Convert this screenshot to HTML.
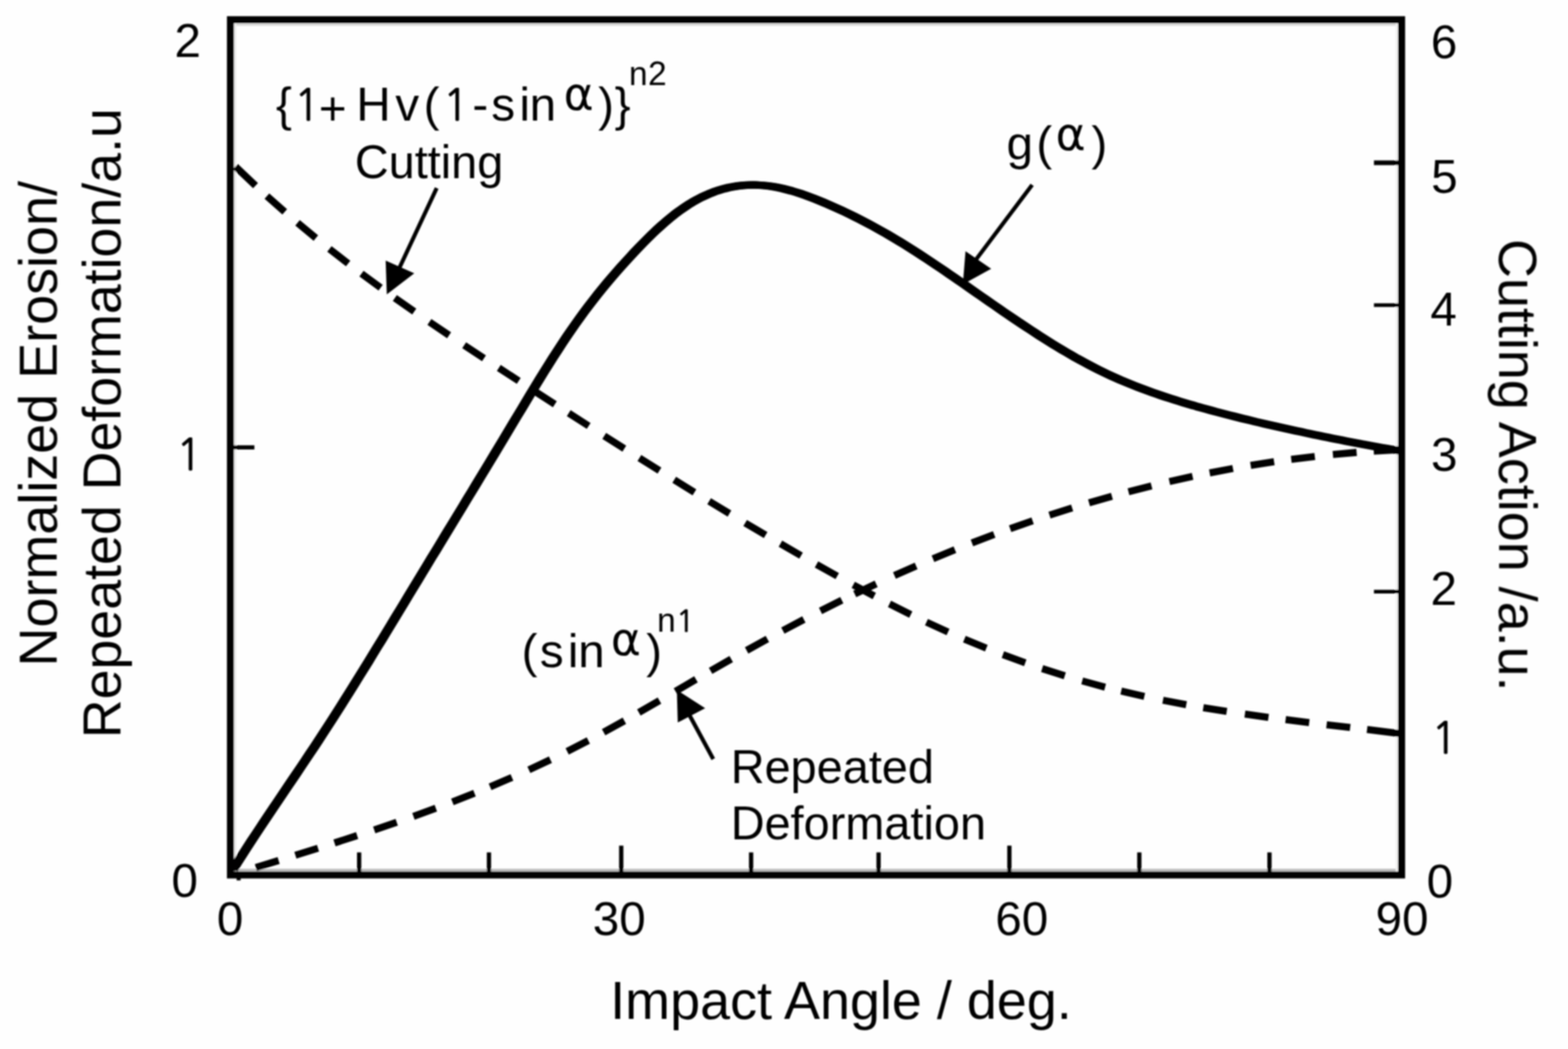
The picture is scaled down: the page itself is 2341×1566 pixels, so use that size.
<!DOCTYPE html>
<html lang="en"><head><meta charset="utf-8"><title>Normalized erosion versus impact angle</title>
<style>
html,body{margin:0;padding:0;background:#fefefe;}
body{width:2341px;height:1566px;overflow:hidden;}
svg{display:block;}
text{font-family:"Liberation Sans",sans-serif;fill:#050605;white-space:pre;}
.t{font-size:71px;}
.a{font-size:80.5px;}
.s{font-size:50px;}
.n{font-size:70px;}
.o{font-family:"NanumGothic","Liberation Sans",sans-serif;stroke:#050605;stroke-width:1.1px;}
.g{font-family:"DejaVu Sans","Liberation Sans",sans-serif;font-size:68px;}
</style></head><body>
<svg width="2341" height="1566" viewBox="0 0 2341 1566">
<rect x="0" y="0" width="2341" height="1566" fill="#fefefe"/>
<defs><filter id="soft" x="0" y="0" width="2341" height="1566" filterUnits="userSpaceOnUse"><feGaussianBlur stdDeviation="1.3"/></filter></defs>
<g filter="url(#soft)">
<rect x="349.3" y="34.7" width="1738.0" height="3.8" fill="#d9d9d8"/>
<rect x="349.3" y="1296.9" width="1738.0" height="4" fill="#bebebe"/>
<rect x="349.3" y="34.7" width="3.6" height="1266.2" fill="#efefee"/>
<rect x="2083.7" y="34.7" width="3.6" height="1266.2" fill="#f1f1f0"/>
<g stroke="#050605" stroke-width="6.4" fill="none">
<line x1="536.2" y1="1306.15" x2="536.2" y2="1272.5"/>
<line x1="730" y1="1306.15" x2="730" y2="1272.5"/>
<line x1="927.5" y1="1306.15" x2="927.5" y2="1262.4"/>
<line x1="1121.4" y1="1306.15" x2="1121.4" y2="1272.5"/>
<line x1="1311.7" y1="1306.15" x2="1311.7" y2="1272.5"/>
<line x1="1507" y1="1306.15" x2="1507" y2="1262.4"/>
<line x1="1701" y1="1306.15" x2="1701" y2="1272.5"/>
<line x1="1895.3" y1="1306.15" x2="1895.3" y2="1272.5"/>
<line x1="344.05" y1="667.9" x2="379.8" y2="667.9"/>
<line x1="2092.55" y1="243" x2="2051.3" y2="243" stroke-width="7"/>
<line x1="2092.55" y1="455.5" x2="2051.3" y2="455.5" stroke-width="5.5"/>
<line x1="2092.55" y1="883.3" x2="2051.3" y2="883.3" stroke-width="5.5"/>
</g>
<path d="M351.5,248.6 L381.5,277.2 M398.5,292.7 L425.1,316.2 M444.2,332.6 L471.6,355.3 M491.8,371.6 L519.8,393.4 M539.7,408.5 L568.3,429.5 M589.5,444.8 L618.5,465.2 M641.1,480.6 L670.5,500.5 M693.0,515.4 L722.6,534.9 M744.7,549.3 L774.5,568.6 M798.6,584.2 L828.4,603.5 M849.1,616.8 L878.9,635.9 M902.1,650.7 L932.1,669.7 M954.6,683.8 L984.6,702.6 M1006.6,716.3 L1036.8,734.9 M1058.7,748.3 L1089.1,766.6 M1112.5,780.7 L1143.1,798.8 M1165.2,811.7 L1196.0,829.5 M1219.0,842.6 L1250.0,860.0 M1273.9,873.1 L1305.3,889.8 M1328.0,901.6 L1359.8,917.4 M1383.2,928.7 L1415.4,943.5 M1439.8,954.1 L1472.6,967.6 M1497.3,977.3 L1530.7,989.5 M1555.9,998.1 L1589.7,1008.9 M1615.7,1016.5 L1649.9,1025.8 M1673.9,1031.7 L1708.5,1039.6 M1736.3,1045.4 L1771.1,1052.0 M1796.5,1056.4 L1831.5,1062.0 M1858.6,1066.0 L1893.8,1070.9 M1919.4,1074.3 L1954.6,1078.7 M1980.6,1081.9 L2015.8,1086.1 M2041.0,1089.1 L2091.0,1095.2" stroke="#050605" stroke-width="10.6" fill="none"/>
<path d="M382.0,1295.1 L416.0,1284.6 M441.0,1276.8 L474.8,1266.2 M499.4,1258.4 L533.2,1247.4 M558.7,1239.0 L592.3,1227.5 M617.3,1218.7 L650.7,1206.5 M675.4,1197.1 L708.4,1184.1 M731.7,1174.6 L764.3,1160.6 M789.6,1149.2 L821.8,1134.1 M846.8,1121.8 L878.4,1105.5 M901.2,1093.2 L932.2,1076.0 M953.8,1063.7 L984.6,1045.9 M1008.5,1032.0 L1039.1,1014.1 M1060.9,1001.5 L1091.7,983.9 M1114.7,971.0 L1145.7,953.8 M1168.8,941.4 L1200.2,924.8 M1225.0,912.0 L1256.8,896.1 M1276.1,886.7 L1308.1,871.6 M1335.4,859.1 L1367.8,844.8 M1392.9,834.1 L1425.7,820.6 M1451.1,810.5 L1484.3,797.9 M1508.1,789.2 L1541.7,777.4 M1566.9,769.0 L1600.7,758.2 M1625.9,750.6 L1660.1,740.8 M1684.8,734.1 L1719.2,725.3 M1745.9,718.9 L1780.5,711.2 M1806.0,706.0 L1840.8,699.4 M1867.2,694.8 L1902.2,689.3 M1927.8,685.7 L1963.0,681.4 M1990.0,678.5 L2025.4,675.4 M2051.0,673.5 L2091.0,671.3" stroke="#050605" stroke-width="10.6" fill="none"/>
<g stroke="#050605" stroke-width="11.2" fill="none" stroke-linejoin="round"><path d="M348.0,1298.0 L354.7,1287.3 L361.5,1276.7 L368.2,1266.3 L374.9,1255.9 L381.6,1245.7 L388.4,1235.5 L395.1,1225.4 L401.8,1215.3 L408.5,1205.3 L415.3,1195.3 L422.0,1185.4 L428.7,1175.4 L435.4,1165.5 L442.2,1155.5 L448.9,1145.5 L455.6,1135.5 L462.3,1125.4 L469.1,1115.3 L475.8,1105.1 L482.5,1094.8 L489.2,1084.5 L496.0,1074.0 L502.7,1063.5 L509.4,1052.9 L516.1,1042.3 L522.9,1031.6 L529.6,1020.8 L536.3,1009.9 L543.1,999.1 L549.8,988.2 L556.5,977.2 L563.2,966.2 L570.0,955.2 L576.7,944.1 L583.4,933.1 L590.1,922.0 L596.9,910.9 L603.6,899.8 L610.3,888.7 L617.0,877.6 L623.8,866.5 L630.5,855.4 L637.2,844.3 L643.9,833.2 L650.7,822.2 L657.4,811.1 L664.1,800.0 L670.8,789.0 L677.6,777.9 L684.3,766.8 L691.0,755.8 L697.7,744.7 L704.5,733.6 L711.2,722.5 L717.9,711.4 L724.6,700.3 L731.4,689.1 L738.1,678.0 L744.8,666.8 L751.6,655.6 L758.3,644.4 L765.0,633.2 L771.7,622.0 L778.5,610.8 L785.2,599.6 L791.9,588.4 L798.6,577.3 L805.4,566.3 L812.1,555.4 L818.8,544.7 L825.5,534.0 L832.3,523.6 L839.0,513.3 L845.7,503.2 L852.4,493.3 L859.2,483.6 L865.9,474.2 L872.6,465.0 L879.3,456.1 L886.1,447.3 L892.8,438.8 L899.5,430.5 L906.2,422.4 L913.0,414.4 L919.7,406.6 L926.4,399.0 L933.2,391.5 L939.9,384.2 L946.6,376.9 L953.3,369.8 L960.1,362.9 L966.8,356.1 L973.5,349.5 L980.2,343.2 L987.0,337.0 L993.7,331.1 L1000.4,325.5 L1007.1,320.1 L1013.9,315.0 L1020.6,310.3 L1027.3,305.8 L1034.0,301.7 L1040.8,297.9 L1047.5,294.4 L1054.2,291.3 L1060.9,288.4 L1067.7,285.8 L1074.4,283.6 L1081.1,281.7 L1087.8,280.0 L1094.6,278.7 L1101.3,277.6 L1108.0,276.9 L1114.7,276.4 L1121.5,276.2 L1128.2,276.2 L1134.9,276.5 L1141.7,277.0 L1148.4,277.8 L1155.1,278.8 L1161.8,280.1 L1168.6,281.5 L1175.3,283.2 L1182.0,285.0 L1188.7,287.0 L1195.5,289.2 L1202.2,291.5 L1208.9,294.0 L1215.6,296.5 L1222.4,299.2 L1229.1,302.0 L1235.8,304.8 L1242.5,307.8 L1249.3,310.8 L1256.0,313.9 L1262.7,317.0 L1269.4,320.3 L1276.2,323.6 L1282.9,327.0 L1289.6,330.5 L1296.3,334.0 L1303.1,337.6 L1309.8,341.3 L1316.5,345.1 L1323.3,348.9 L1330.0,352.9 L1336.7,356.8 L1343.4,360.9 L1350.2,365.0 L1356.9,369.2 L1363.6,373.5 L1370.3,377.8 L1377.1,382.2 L1383.8,386.6 L1390.5,391.1 L1397.2,395.6 L1404.0,400.1 L1410.7,404.7 L1417.4,409.3 L1424.1,413.9 L1430.9,418.6 L1437.6,423.2 L1444.3,427.9 L1451.0,432.6 L1457.8,437.3 L1464.5,442.0 L1471.2,446.7 L1477.9,451.3 L1484.7,456.0 L1491.4,460.7 L1498.1,465.3 L1504.8,469.9 L1511.6,474.5 L1518.3,479.0 L1525.0,483.5 L1531.8,488.0 L1538.5,492.4 L1545.2,496.8 L1551.9,501.2 L1558.7,505.5 L1565.4,509.7 L1572.1,513.9 L1578.8,518.0 L1585.6,522.1 L1592.3,526.0 L1599.0,529.9 L1605.7,533.8 L1612.5,537.5 L1619.2,541.2 L1625.9,544.8 L1632.6,548.3 L1639.4,551.7 L1646.1,555.0 L1652.8,558.2 L1659.5,561.3 L1666.3,564.3 L1673.0,567.3 L1679.7,570.1 L1686.4,572.9 L1693.2,575.6 L1699.9,578.2 L1706.6,580.8 L1713.4,583.3 L1720.1,585.7 L1726.8,588.1 L1733.5,590.4 L1740.3,592.6 L1747.0,594.8 L1753.7,596.9 L1760.4,599.0 L1767.2,601.1 L1773.9,603.1 L1780.6,605.0 L1787.3,607.0 L1794.1,608.8 L1800.8,610.7 L1807.5,612.5 L1814.2,614.4 L1821.0,616.1 L1827.7,617.9 L1834.4,619.6 L1841.1,621.3 L1847.9,623.0 L1854.6,624.7 L1861.3,626.3 L1868.0,627.9 L1874.8,629.6 L1881.5,631.1 L1888.2,632.7 L1894.9,634.2 L1901.7,635.8 L1908.4,637.3 L1915.1,638.8 L1921.9,640.3 L1928.6,641.7 L1935.3,643.2 L1942.0,644.6 L1948.8,646.1 L1955.5,647.5 L1962.2,648.9 L1968.9,650.3 L1975.7,651.7 L1982.4,653.1 L1989.1,654.4 L1995.8,655.8 L2002.6,657.1 L2009.3,658.4 L2016.0,659.7 L2022.7,661.0 L2029.5,662.3 L2036.2,663.6 L2042.9,664.8 L2049.6,666.0 L2056.4,667.2 L2063.1,668.4 L2069.8,669.6 L2076.5,670.7 L2083.3,671.8 L2090.0,672.9" transform="translate(-1.7,0)"/><path d="M348.0,1298.0 L354.7,1287.3 L361.5,1276.7 L368.2,1266.3 L374.9,1255.9 L381.6,1245.7 L388.4,1235.5 L395.1,1225.4 L401.8,1215.3 L408.5,1205.3 L415.3,1195.3 L422.0,1185.4 L428.7,1175.4 L435.4,1165.5 L442.2,1155.5 L448.9,1145.5 L455.6,1135.5 L462.3,1125.4 L469.1,1115.3 L475.8,1105.1 L482.5,1094.8 L489.2,1084.5 L496.0,1074.0 L502.7,1063.5 L509.4,1052.9 L516.1,1042.3 L522.9,1031.6 L529.6,1020.8 L536.3,1009.9 L543.1,999.1 L549.8,988.2 L556.5,977.2 L563.2,966.2 L570.0,955.2 L576.7,944.1 L583.4,933.1 L590.1,922.0 L596.9,910.9 L603.6,899.8 L610.3,888.7 L617.0,877.6 L623.8,866.5 L630.5,855.4 L637.2,844.3 L643.9,833.2 L650.7,822.2 L657.4,811.1 L664.1,800.0 L670.8,789.0 L677.6,777.9 L684.3,766.8 L691.0,755.8 L697.7,744.7 L704.5,733.6 L711.2,722.5 L717.9,711.4 L724.6,700.3 L731.4,689.1 L738.1,678.0 L744.8,666.8 L751.6,655.6 L758.3,644.4 L765.0,633.2 L771.7,622.0 L778.5,610.8 L785.2,599.6 L791.9,588.4 L798.6,577.3 L805.4,566.3 L812.1,555.4 L818.8,544.7 L825.5,534.0 L832.3,523.6 L839.0,513.3 L845.7,503.2 L852.4,493.3 L859.2,483.6 L865.9,474.2 L872.6,465.0 L879.3,456.1 L886.1,447.3 L892.8,438.8 L899.5,430.5 L906.2,422.4 L913.0,414.4 L919.7,406.6 L926.4,399.0 L933.2,391.5 L939.9,384.2 L946.6,376.9 L953.3,369.8 L960.1,362.9 L966.8,356.1 L973.5,349.5 L980.2,343.2 L987.0,337.0 L993.7,331.1 L1000.4,325.5 L1007.1,320.1 L1013.9,315.0 L1020.6,310.3 L1027.3,305.8 L1034.0,301.7 L1040.8,297.9 L1047.5,294.4 L1054.2,291.3 L1060.9,288.4 L1067.7,285.8 L1074.4,283.6 L1081.1,281.7 L1087.8,280.0 L1094.6,278.7 L1101.3,277.6 L1108.0,276.9 L1114.7,276.4 L1121.5,276.2 L1128.2,276.2 L1134.9,276.5 L1141.7,277.0 L1148.4,277.8 L1155.1,278.8 L1161.8,280.1 L1168.6,281.5 L1175.3,283.2 L1182.0,285.0 L1188.7,287.0 L1195.5,289.2 L1202.2,291.5 L1208.9,294.0 L1215.6,296.5 L1222.4,299.2 L1229.1,302.0 L1235.8,304.8 L1242.5,307.8 L1249.3,310.8 L1256.0,313.9 L1262.7,317.0 L1269.4,320.3 L1276.2,323.6 L1282.9,327.0 L1289.6,330.5 L1296.3,334.0 L1303.1,337.6 L1309.8,341.3 L1316.5,345.1 L1323.3,348.9 L1330.0,352.9 L1336.7,356.8 L1343.4,360.9 L1350.2,365.0 L1356.9,369.2 L1363.6,373.5 L1370.3,377.8 L1377.1,382.2 L1383.8,386.6 L1390.5,391.1 L1397.2,395.6 L1404.0,400.1 L1410.7,404.7 L1417.4,409.3 L1424.1,413.9 L1430.9,418.6 L1437.6,423.2 L1444.3,427.9 L1451.0,432.6 L1457.8,437.3 L1464.5,442.0 L1471.2,446.7 L1477.9,451.3 L1484.7,456.0 L1491.4,460.7 L1498.1,465.3 L1504.8,469.9 L1511.6,474.5 L1518.3,479.0 L1525.0,483.5 L1531.8,488.0 L1538.5,492.4 L1545.2,496.8 L1551.9,501.2 L1558.7,505.5 L1565.4,509.7 L1572.1,513.9 L1578.8,518.0 L1585.6,522.1 L1592.3,526.0 L1599.0,529.9 L1605.7,533.8 L1612.5,537.5 L1619.2,541.2 L1625.9,544.8 L1632.6,548.3 L1639.4,551.7 L1646.1,555.0 L1652.8,558.2 L1659.5,561.3 L1666.3,564.3 L1673.0,567.3 L1679.7,570.1 L1686.4,572.9 L1693.2,575.6 L1699.9,578.2 L1706.6,580.8 L1713.4,583.3 L1720.1,585.7 L1726.8,588.1 L1733.5,590.4 L1740.3,592.6 L1747.0,594.8 L1753.7,596.9 L1760.4,599.0 L1767.2,601.1 L1773.9,603.1 L1780.6,605.0 L1787.3,607.0 L1794.1,608.8 L1800.8,610.7 L1807.5,612.5 L1814.2,614.4 L1821.0,616.1 L1827.7,617.9 L1834.4,619.6 L1841.1,621.3 L1847.9,623.0 L1854.6,624.7 L1861.3,626.3 L1868.0,627.9 L1874.8,629.6 L1881.5,631.1 L1888.2,632.7 L1894.9,634.2 L1901.7,635.8 L1908.4,637.3 L1915.1,638.8 L1921.9,640.3 L1928.6,641.7 L1935.3,643.2 L1942.0,644.6 L1948.8,646.1 L1955.5,647.5 L1962.2,648.9 L1968.9,650.3 L1975.7,651.7 L1982.4,653.1 L1989.1,654.4 L1995.8,655.8 L2002.6,657.1 L2009.3,658.4 L2016.0,659.7 L2022.7,661.0 L2029.5,662.3 L2036.2,663.6 L2042.9,664.8 L2049.6,666.0 L2056.4,667.2 L2063.1,668.4 L2069.8,669.6 L2076.5,670.7 L2083.3,671.8 L2090.0,672.9" transform="translate(1.7,0)"/></g>
<rect x="344.05" y="29.45" width="1748.50" height="1276.70" fill="none" stroke="#050605" stroke-width="10.5"/>
<rect x="353.3" y="1310" width="6" height="4.3" fill="#050605"/>
<line x1="652.0" y1="280.7" x2="596.5" y2="399.5" stroke="#050605" stroke-width="6.0"/>
<polygon points="575.8,389.0 618.5,408.1 577.5,439.5" fill="#050605"/>
<line x1="1541.0" y1="276.0" x2="1457.5" y2="387.0" stroke="#050605" stroke-width="6.0"/>
<polygon points="1441.5,375.1 1479.8,401.3 1437.5,424.5" fill="#050605"/>
<line x1="1064.9" y1="1133.2" x2="1028.5" y2="1066.0" stroke="#050605" stroke-width="6.0"/>
<polygon points="1010.5,1030.0 1052.8,1057.3 1011.9,1078.6" fill="#050605"/>
<text class="t" x="260.6" y="85.2">2</text>
<text class="t"><tspan class="o" style="font-size:64.0px" x="263.1" y="702.0">1</tspan></text>
<text class="t" x="255.9" y="1339.3">0</text>
<text class="t" x="2136.2" y="86.9">6</text>
<text class="t" x="2136.8" y="287.9">5</text>
<text class="t" x="2135.5" y="486.0">4</text>
<text class="t" x="2136.5" y="702.6">3</text>
<text class="t" x="2135.7" y="903.0">2</text>
<text class="t" x="2130.0" y="1339.6">0</text>
<text class="t"><tspan class="o" style="font-size:64.0px" x="2137.1" y="1125.3">1</tspan></text>
<text class="t" x="323.8" y="1395.5">0</text>
<text class="t" x="885.1" y="1396.0">30</text>
<text class="t" x="1485.9" y="1396.0">60</text>
<text class="t" x="2053.8" y="1396.0">90</text>
<text class="a" x="911.0" y="1521.0">Impact Angle / deg.</text>
<text class="a" transform="translate(84.6,995.0) rotate(-90)" x="0" y="0">Normalized Erosion/</text>
<text class="a" style="font-size:80.2px" transform="translate(179.8,1102.0) rotate(-90)" x="0" y="0">Repeated Deformation/a.u</text>
<text class="a" transform="translate(2238.2,356.7) rotate(90)" x="0" y="0">Cutting Action /a.u.</text>
<text class="n" x="529.7" y="266.3">Cutting</text>
<text class="n" x="1090.9" y="1169.0">Repeated</text>
<text class="n" x="1090.9" y="1253.0">Deformation</text>
<text class="t"><tspan style="font-size:71px" x="412.0" y="179.6">{</tspan><tspan class="o" style="font-size:64.0px" x="439.1" y="179.6">1</tspan><tspan style="font-size:71px" x="475.9" y="186.1">+</tspan><tspan style="font-size:71px" x="532.1" y="179.6">H</tspan><tspan style="font-size:71px" x="590.2" y="179.6">v</tspan><tspan style="font-size:71px" x="632.4" y="179.6">(</tspan><tspan class="o" style="font-size:64.0px" x="661.3" y="179.6">1</tspan><tspan style="font-size:71px" x="705.3" y="179.6">-</tspan><tspan style="font-size:71px" x="733.4" y="179.6">s</tspan><tspan style="font-size:71px" x="775.4" y="179.6">i</tspan><tspan style="font-size:71px" x="790.7" y="179.6">n</tspan><tspan class="g" x="841.4" y="163.5">α</tspan><tspan style="font-size:71px" x="893.0" y="179.6">)</tspan><tspan style="font-size:71px" x="917.8" y="179.6">}</tspan><tspan style="font-size:50px" x="938.9" y="127.3">n</tspan><tspan style="font-size:50px" x="967.5" y="127.3">2</tspan></text>
<text class="t"><tspan style="font-size:71px" x="778.8" y="996.4">(</tspan><tspan style="font-size:71px" x="806.0" y="996.4">s</tspan><tspan style="font-size:71px" x="847.8" y="996.4">i</tspan><tspan style="font-size:71px" x="863.2" y="996.4">n</tspan><tspan class="g" x="911.9" y="977.9">α</tspan><tspan style="font-size:71px" x="964.8" y="996.4">)</tspan><tspan style="font-size:50px" x="980.9" y="942.6">n</tspan><tspan class="o" style="font-size:45.1px" x="1009.5" y="942.6">1</tspan></text>
<text class="t"><tspan style="font-size:71px" x="1502.8" y="237.8">g</tspan><tspan style="font-size:71px" x="1547.3" y="237.8">(</tspan><tspan class="g" x="1575.9" y="224.0">α</tspan><tspan style="font-size:71px" x="1629.5" y="237.8">)</tspan></text>
</g>
</svg></body></html>
